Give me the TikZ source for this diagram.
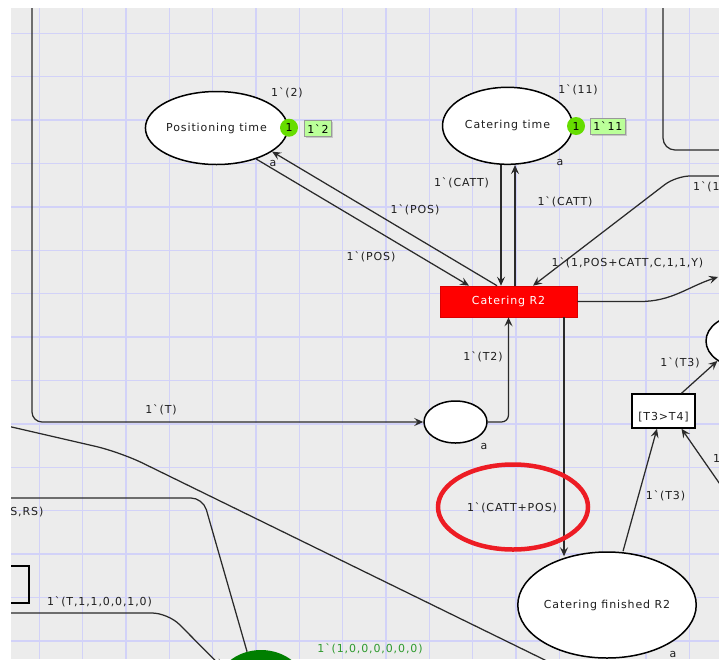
\documentclass[tikz,border=0pt]{standalone}
\usepackage{fontspec}
\newfontfamily\cpn[LetterSpace=8]{DejaVu Sans}
\usetikzlibrary{shapes.geometric,arrows.meta,calc,shadows}
\definecolor{canvas}{HTML}{ECECEC}
\definecolor{gridline}{HTML}{D2D2F8}
\definecolor{arcgray}{HTML}{2A2A2A}
\definecolor{tokgreen}{HTML}{66DD00}
\definecolor{tokbox}{HTML}{BBFF99}
\definecolor{hilite}{HTML}{ED1C24}
\definecolor{initgreen}{HTML}{2E9A2E}
\definecolor{placegreen}{HTML}{007F00}
\definecolor{labeltext}{HTML}{1E1E1E}
\begin{document}
\begin{tikzpicture}[x=1pt,y=-1pt,
  every node/.style={font={\cpn\fontsize{11}{13}\selectfont}},
  place/.style={ellipse, draw=black, line width=1.5pt, fill=white, inner sep=0pt, text=labeltext},
  transred/.style={rectangle, fill=red, draw=red!85!black, line width=0.6pt, text=white,
    minimum width=137, minimum height=31, inner sep=0pt},
  guardbox/.style={rectangle, draw=black, line width=1.5pt, fill=white,
    minimum width=63, minimum height=34, inner sep=0pt},
  arc/.style={draw=arcgray, line width=1.25pt},
  arr/.style={-{Stealth[length=9pt,width=8pt,inset=3.5pt]}},
  lbl/.style={inner sep=0pt, text=labeltext},
  token/.style={circle, fill=tokgreen, minimum size=18, inner sep=0pt, text=black},
  marking/.style={rectangle, fill=tokbox, draw=black!40, line width=0.6pt,
    minimum height=16, inner xsep=3pt, inner ysep=0pt, text=black,
    drop shadow={shadow xshift=1.5pt, shadow yshift=-1.5pt, opacity=0.35}},
]
\useasboundingbox (0,0) rectangle (719,659);
\fill[white] (0,0) rectangle (719,659);
\begin{scope}
\clip (11,8) rectangle (719,659);
\fill[canvas] (11,8) rectangle (719,659);
% grid
\foreach \i in {0,...,15}
  \draw[gridline, line width=1.5pt] ({39.3+43.33*\i},8) -- ({39.3+43.33*\i},659);
\foreach \j in {0,...,14}
  \draw[gridline, line width=1.5pt] (11,{33.3+43.4*\j}) -- (719,{33.3+43.4*\j});

% places and transitions
\node[place, minimum width=138, minimum height=73] (pos) at (216.5,128) {Positioning time};
\node[place, minimum width=130, minimum height=77] (cattime) at (507.5,125.8) {Catering time};
\node[place, minimum width=63, minimum height=42] (wait) at (455.5,422) {};
\node[place, minimum width=172, minimum height=106] (catfin) at (607,605) {Catering finished R2};
\node[place, minimum width=72, minimum height=52] (rightpl) at (742,341) {};
\node[ellipse, fill=placegreen, minimum width=92, minimum height=80, inner sep=0pt] (initpl) at (261,690) {};
\node[transred] (catr2) at (508.5,301.5) {Catering R2};
\node[guardbox] (guard) at (663.5,411) {};
\node[lbl] (guardtxt) at (663.5,417) {[T3>T4]};
\node[rectangle, draw=black, line width=1.5pt, minimum width=68, minimum height=37, inner sep=0pt] (leftbox) at (-5,584.5) {};

% frame corner at the top right
\draw[arc, rounded corners=12] (663,-10) -- (663,150) -- (740,150);

% free ends of arcs leaving the canvas
\coordinate (offN) at (32,-10);
\coordinate (offNE) at (740,176);
\coordinate (offE) at (718,277);
\coordinate (offSE) at (740,513);
\coordinate (offW1) at (-10,422);
\coordinate (offSE2) at (600,687);
\coordinate (offW2) at (-10,498);
\coordinate (offW3) at (-10,613);

% arcs
\draw[arc, arr, rounded corners=10] (offN) |- (wait.west);
\draw[arc, arr, rounded corners=7] (wait.east) -| (catr2.south);
\draw[arc, arr] ([xshift=-6.5pt]cattime.south) -- ([xshift=-7.5pt]catr2.north);
\draw[arc, arr] ([xshift=6.5pt]catr2.north) -- ([xshift=7.5pt]cattime.south);
\draw[arc, arr] ([xshift=-11.5pt]catr2.north) -- (pos.-23);
\draw[arc, arr] (pos.-38) -- ([xshift=-39.5pt]catr2.north);
\draw[arc, arr, rounded corners=14] (offNE) -- (676,176) -- ([xshift=24.5pt]catr2.north);
\draw[arc, arr] (catr2.east) -- (640,301.5) to[out=0,in=198] (offE);
\draw[arc, arr] ([xshift=55.5pt]catr2.south) -- ([xshift=55.5pt]catr2.south |- catfin.128);
\draw[arc, arr] ([xshift=16pt]catfin.north) -- ([xshift=-6.5pt]guard.south);
\draw[arc, arr] (offSE) -- ([xshift=18pt]guard.south);
\draw[arc, arr] ([xshift=18pt]guard.north) -- (rightpl.219);
\draw[arc, rounded corners=25] (offW1) -- (120,452) -- (offSE2);
\draw[arc, rounded corners=12] (offW2) -- (203,498) -- (initpl.110);
\draw[arc, arr, rounded corners=16] (offW3) -- (168,613) -- (initpl.150);

% highlight around the arc inscription
\node[ellipse, draw=hilite, line width=4.5pt, minimum width=150, minimum height=85, inner sep=0pt] (hl) at (513,507) {};

% tokens and markings
\node[token] (tk1) at (289,127.7) {1};
\node[marking, anchor=west] (mk1) at (304,128.7) {1`2};
\node[token] (tk2) at (576,126) {1};
\node[marking, anchor=west] (mk2) at (590,126.5) {1`11};

% inscriptions
\node[lbl] (ini1) at (287,92.5) {1`(2)};
\node[lbl] (ini2) at (578,90) {1`(11)};
\node[lbl] (a1) at (273,163) {a};
\node[lbl] (a2) at (560,162) {a};
\node[lbl] (a3) at (484,446) {a};
\node[lbl] (a4) at (673,654) {a};
\node[lbl] (ex1) at (461.5,182.5) {1`(CATT)};
\node[lbl] (ex2) at (565,202) {1`(CATT)};
\node[lbl] (ex3) at (415,210) {1`(POS)};
\node[lbl] (ex4) at (371,256.5) {1`(POS)};
\node[lbl] (ex5) at (483,357) {1`(T2)};
\node[lbl] (ex6) at (161,410) {1`(T)};
\node[lbl] (ex7) at (627.5,263) {1`(1,POS+CATT,C,1,1,Y)};
\node[lbl] (ex8) at (512,508) {1`(CATT+POS)};
\node[lbl] (ex9) at (665.5,496) {1`(T3)};
\node[lbl] (ex10) at (680,363) {1`(T3)};
\node[lbl] (ex11) at (99.5,601.5) {1`(T,1,1,0,0,1,0)};
\node[lbl, anchor=east] (ex12) at (43.5,512.5) {S,RS)};
\node[lbl, anchor=west] (ex13) at (693,186.5) {1`(1};
\node[lbl, anchor=west] (ex14) at (713,458) {1};
\node[lbl, text=initgreen] (ini3) at (370,649) {1`(1,0,0,0,0,0,0)};
\end{scope}
\end{tikzpicture}
\end{document}
